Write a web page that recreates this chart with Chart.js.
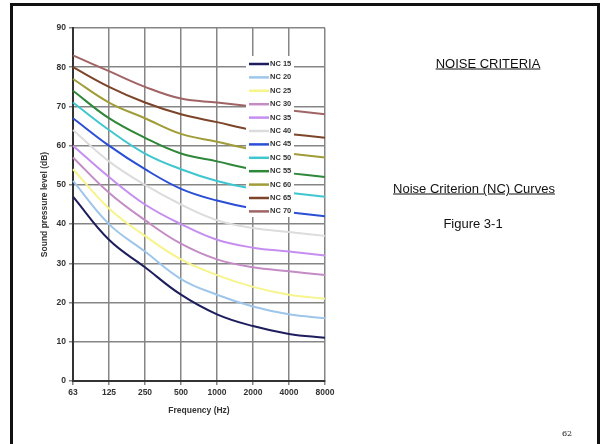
<!DOCTYPE html>
<html>
<head>
<meta charset="utf-8">
<script src="https://cdn.jsdelivr.net/npm/chart.js@4/dist/chart.umd.min.js"></script>
<style>
  html, body { margin: 0; padding: 0; background: #fff; }
  #page { position: relative; width: 600px; height: 444px; overflow: hidden; font-family: "Liberation Sans", Arial, sans-serif; }
  #frame { position: absolute; left: 10px; top: 3px; width: 584px; height: 460px; border: 3px solid #111; }
  #chart { position: absolute; left: 0; top: 0; }
  .txt { position: absolute; transform: translate(-50%, -50%); white-space: nowrap; color: #111; font-size: 13px; }
  .u { text-decoration: underline; }
  #pageno { font-family: "DejaVu Serif", "Liberation Serif", serif; font-size: 8px; }
</style>
</head>
<body>
<div id="page">
  <div id="frame"></div>
  <canvas id="chart" width="600" height="444"></canvas>
  <div class="txt u" style="left:488px; top:63px;">NOISE CRITERIA</div>
  <div class="txt u" style="left:474px; top:188px;">Noise Criterion (NC) Curves</div>
  <div class="txt" style="left:473px; top:223px;">Figure 3-1</div>
  <div class="txt" id="pageno" style="left:567px; top:433px;">62</div>
</div>
<script>
// octave band centre frequencies
var frequencies = ['63', '125', '250', '500', '1000', '2000', '4000', '8000'];

var curveNames = ['NC 15', 'NC 20', 'NC 25', 'NC 30', 'NC 35', 'NC 40',
                  'NC 45', 'NC 50', 'NC 55', 'NC 60', 'NC 65', 'NC 70'];

var nc15 = [47, 36, 29, 22, 17, 14, 12, 11];
var nc20 = [51, 40, 33, 26, 22, 19, 17, 16];
var nc25 = [54, 44, 37, 31, 27, 24, 22, 21];
var nc30 = [57, 48, 41, 35, 31, 29, 28, 27];
var nc35 = [60, 52, 45, 40, 36, 34, 33, 32];
var nc40 = [64, 56, 50, 45, 41, 39, 38, 37];
var nc45 = [67, 60, 54, 49, 46, 44, 43, 42];
var nc50 = [71, 64, 58, 54, 51, 49, 48, 47];
var nc55 = [74, 67, 62, 58, 56, 54, 53, 52];
var nc60 = [77, 71, 67, 63, 61, 59, 58, 57];
var nc65 = [80, 75, 71, 68, 66, 64, 63, 62];
var nc70 = [83, 79, 75, 72, 71, 70, 69, 68];

var yTicks = [0, 10, 20, 30, 40, 50, 60, 70, 80, 90];

var curveValues = [nc15, nc20, nc25, nc30, nc35, nc40, nc45, nc50, nc55, nc60, nc65, nc70];
var curveColors = ['#1e1e5e', '#9ec6ea', '#f6f48a', '#c48cc4', '#c58ef0', '#dcdcdc',
                   '#2a4fd6', '#3fc6ce', '#2f873a', '#a09c38', '#7c4428', '#a06464'];

var datasets = [];
for (var i = 0; i < curveNames.length; i++) {
    datasets.push({
        label: curveNames[i],
        data: curveValues[i],
        borderColor: curveColors[i],
        backgroundColor: curveColors[i],
        borderWidth: 2,
        pointRadius: 0,
        tension: 0.4,
        fill: false
    });
}

var axisFont = { family: '"Liberation Sans", Arial, sans-serif', size: 8.5, weight: 'bold' };

// legend box sitting inside the plot, white behind it
var insideLegend = {
    id: 'insideLegend',
    afterDatasetsDraw: function(chart) {
        var ctx = chart.ctx;
        var area = chart.chartArea;
        var x0 = area.right - 79;
        var y0 = area.top + 28;
        ctx.save();
        ctx.fillStyle = '#fff';
        ctx.fillRect(x0, y0, 48, 161);
        ctx.font = 'bold 7.5px "Liberation Sans", Arial, sans-serif';
        ctx.textBaseline = 'middle';
        ctx.textAlign = 'left';
        chart.data.datasets.forEach(function(ds, k) {
            var y = y0 + 8 + k * 13.4;
            ctx.strokeStyle = ds.borderColor;
            ctx.lineWidth = 2.5;
            ctx.beginPath();
            ctx.moveTo(x0 + 3, y);
            ctx.lineTo(x0 + 23, y);
            ctx.stroke();
            ctx.fillStyle = '#333';
            ctx.fillText(ds.label, x0 + 24, y);
        });
        ctx.restore();
    }
};

var ctx = document.getElementById('chart');
new Chart(ctx, {
    type: 'line',
    data: {
        labels: frequencies,
        datasets: datasets
    },
    options: {
        responsive: false,
        animation: false,
        layout: { padding: { left: 12, top: 28, right: 275, bottom: 0 } },
        plugins: {
            legend: { display: false },
            tooltip: { enabled: false }
        },
        scales: {
            x: {
                afterFit: function(s) { s.height = 63; },
                grid: { color: '#858585', lineWidth: 1.5, tickLength: 4 },
                border: { color: '#333', width: 2 },
                ticks: { color: '#333', padding: 3, maxRotation: 0, font: axisFont },
                title: {
                    display: true,
                    text: 'Frequency (Hz)',
                    color: '#333',
                    padding: { top: 0, bottom: 28 },
                    font: axisFont
                }
            },
            y: {
                min: 0,
                max: 90,
                afterFit: function(s) { s.width = 61; },
                afterBuildTicks: function(s) { s.ticks = yTicks.map(function(v) { return { value: v }; }); },
                grid: { color: '#858585', lineWidth: 1.5, tickLength: 4 },
                border: { color: '#333', width: 2 },
                ticks: { color: '#333', padding: 3, font: axisFont },
                title: {
                    display: true,
                    text: 'Sound pressure level (dB)',
                    color: '#333',
                    padding: { top: 28, bottom: 0 },
                    font: axisFont
                }
            }
        }
    },
    plugins: [insideLegend]
});
</script>
</body>
</html>
